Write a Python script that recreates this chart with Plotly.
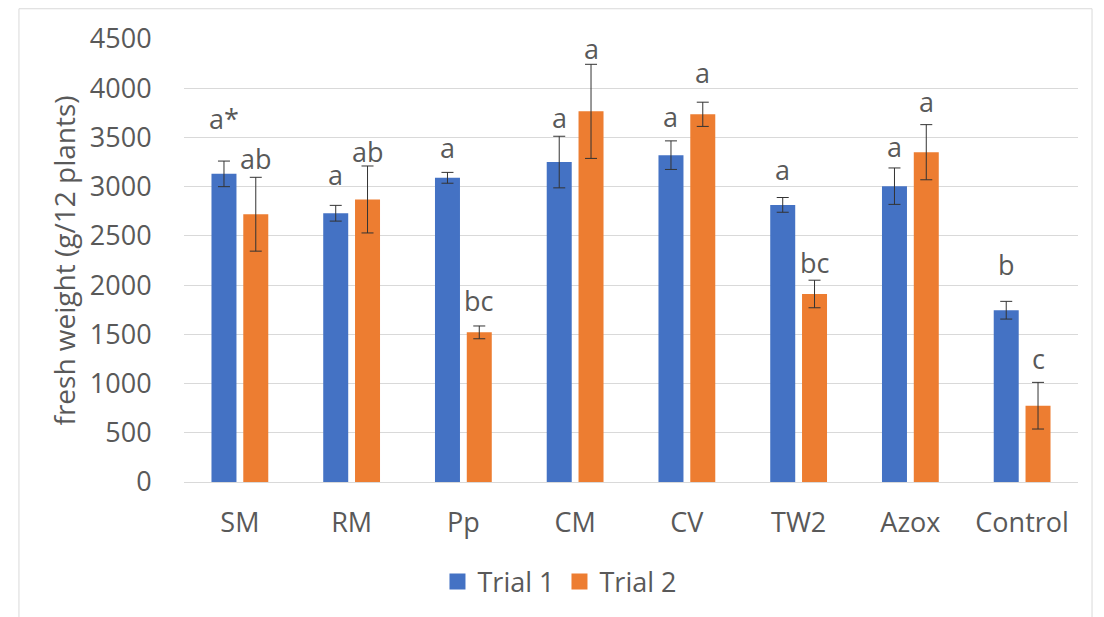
import plotly.graph_objects as go

# Treatments and mean fresh weight (g per 12 plants) with standard errors
treatments = ["SM", "RM", "Pp", "CM", "CV", "TW2", "Azox", "Control"]
trial1 = [3130, 2730, 3090, 3250, 3320, 2815, 3005, 1745]
trial1_err = [130, 80, 55, 262, 145, 75, 185, 90]
trial2 = [2720, 2870, 1520, 3765, 3735, 1910, 3350, 775]
trial2_err = [375, 340, 65, 478, 123, 140, 280, 237]

# Mean-separation letters for each bar
trial1_letters = ["a*", "a", "a", "a", "a", "a", "a", "b"]
trial2_letters = ["ab", "ab", "bc", "a", "a", "bc", "a", "c"]
# Baseline heights (axis units) where each letter group sits
trial1_letter_y = [3571, 3006, 3284, 3582, 3599, 3057, 3294, 2093]
trial2_letter_y = [3169, 3244, 1725, 4285, 4038, 2110, 3751, 1136]

BLUE = "#4472C4"
ORANGE = "#ED7D31"
TEXT = "#595959"
GRID = "#D9D9D9"
FONT = "Open Sans"
FS = 27

fig = go.Figure()
for name, vals, errs, color in [
    ("Trial 1", trial1, trial1_err, BLUE),
    ("Trial 2", trial2, trial2_err, ORANGE),
]:
    fig.add_trace(go.Bar(
        x=treatments, y=vals, name=name, showlegend=False,
        marker=dict(color=color, line=dict(width=0)),
        error_y=dict(type="data", array=errs, visible=True,
                     color="#333333", thickness=1, width=6),
    ))
    # square legend keys
    fig.add_trace(go.Scatter(
        x=[None], y=[None], mode="markers", name=name,
        marker=dict(symbol="square", size=16, color=color),
    ))

BAR_SHIFT = 16
for letters, ys, shift in [
    (trial1_letters, trial1_letter_y, -BAR_SHIFT),
    (trial2_letters, trial2_letter_y, BAR_SHIFT),
]:
    for cat, lab, yv in zip(treatments, letters, ys):
        fig.add_annotation(
            x=cat, y=yv, text=lab, showarrow=False, xshift=shift,
            yanchor="bottom", yshift=-9,
            font=dict(family=FONT, size=FS, color=TEXT),
        )

# chart frame
fig.add_shape(type="rect", xref="paper", yref="paper",
              x0=-0.1846, x1=1.0157, y0=-0.35, y1=1.0683,
              line=dict(color=GRID, width=1), fillcolor="rgba(0,0,0,0)",
              layer="below")

fig.update_layout(
    width=1104, height=617,
    margin=dict(l=184, r=26, t=39, b=134),
    paper_bgcolor="white", plot_bgcolor="white",
    barmode="group", bargap=0.431, bargroupgap=0.214,
    font=dict(family=FONT, size=FS, color=TEXT),
    legend=dict(orientation="h", x=0.42, y=-0.223, xanchor="center",
                yanchor="middle", font=dict(size=FS, color=TEXT),
                itemwidth=30, tracegroupgap=0),
)
fig.update_xaxes(
    showgrid=False, showline=True, linecolor=GRID, linewidth=1,
    ticks="outside", ticklen=17, tickcolor="rgba(0,0,0,0)",
    tickfont=dict(size=FS, color=TEXT),
)
fig.update_yaxes(
    range=[0, 4500], dtick=500, tick0=0,
    showgrid=True, gridcolor=GRID, gridwidth=1, zeroline=False,
    ticks="outside", ticklen=26, tickcolor="rgba(0,0,0,0)",
    tickfont=dict(size=FS, color=TEXT),
    title=dict(text="fresh weight (g/12 plants)", standoff=6,
               font=dict(size=28, color=TEXT)),
)

fig.write_html("out.html")
